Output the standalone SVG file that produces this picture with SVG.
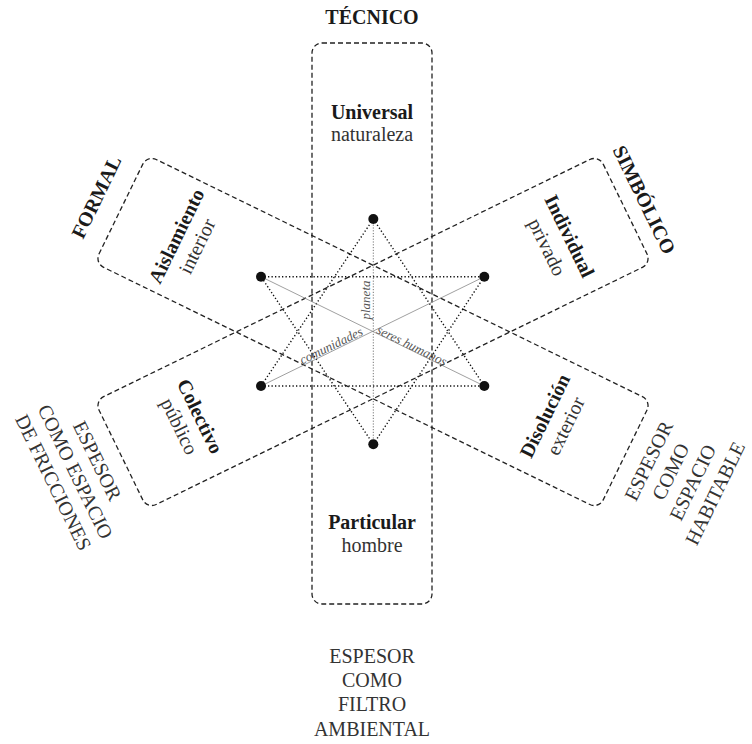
<svg xmlns="http://www.w3.org/2000/svg" width="752" height="744" viewBox="0 0 752 744">
<defs>
<style>
.box{fill:none;stroke:#222;stroke-width:1.3;stroke-dasharray:5 3}
.t{font-family:"Liberation Serif","Times New Roman",serif;font-size:20px;text-anchor:middle;fill:#333}
.b{font-weight:bold;fill:#1a1a1a}
.it{font-family:"Liberation Serif","Times New Roman",serif;font-style:italic;font-size:13px;text-anchor:middle;fill:#555}
.dt{fill:none;stroke:#111;stroke-width:1.4;stroke-dasharray:1.3 2.2}
.thin{fill:none;stroke:#888;stroke-width:0.8}
.vd{fill:none;stroke:#666;stroke-width:0.9;stroke-dasharray:1.2 1.6}
.dot{fill:#111}
</style>
</defs>
<rect width="752" height="744" fill="#fff"/>

<g id="node-tecnico" transform="translate(372 332)">
<rect class="box" x="-60" y="-289" width="120" height="561" rx="10"/>
<text class="t b" x="0" y="-308">TÉCNICO</text>
<text class="t b" x="0" y="-213.5">Universal</text>
<text class="t" x="0" y="-191">naturaleza</text>
<text class="t b" x="0" y="197">Particular</text>
<text class="t" x="0" y="220">hombre</text>
<text class="t" x="0" y="330.5">ESPESOR</text>
<text class="t" x="0" y="355">COMO</text>
<text class="t" x="0" y="379">FILTRO</text>
<text class="t" x="0" y="403.5">AMBIENTAL</text>
</g>

<g id="node-formal" transform="translate(373 332) rotate(-64)">
<rect class="box" x="-60" y="-280.5" width="120" height="561" rx="10"/>
<text class="t b" x="0" y="-301">FORMAL</text>
<text class="t b" x="0" y="-212">Aislamiento</text>
<text class="t" x="0" y="-189">interior</text>
<text class="t b" x="0" y="198">Disolución</text>
<text class="t" x="0" y="221">exterior</text>
<text class="t" x="5" y="311">ESPESOR</text>
<text class="t" x="5" y="335.5">COMO</text>
<text class="t" x="5" y="360">ESPACIO</text>
<text class="t" x="5" y="385">HABITABLE</text>
</g>

<g id="node-simbolico" transform="translate(373 332) rotate(64)">
<rect class="box" x="-60" y="-280.5" width="120" height="561" rx="10"/>
<text class="t b" x="0" y="-295">SIMBÓLICO</text>
<text class="t b" x="0" y="-212">Individual</text>
<text class="t" x="0" y="-187">privado</text>
<text class="t b" x="0" y="199">Colectivo</text>
<text class="t" x="0" y="222">público</text>
<text class="t" x="-5" y="311">ESPESOR</text>
<text class="t" x="-5" y="335.5">COMO ESPACIO</text>
<text class="t" x="-5" y="360">DE FRICCIONES</text>
</g>

<g id="connectors">
<line class="dt" x1="373.3" y1="219" x2="261" y2="386"/>
<line class="dt" x1="373.3" y1="219" x2="484.3" y2="386"/>
<line class="dt" x1="261" y1="386" x2="484.3" y2="386"/>
<line class="dt" x1="373.3" y1="444.3" x2="261" y2="276.7"/>
<line class="dt" x1="373.3" y1="444.3" x2="484.3" y2="276.7"/>
<line class="dt" x1="261" y1="276.7" x2="484.3" y2="276.7"/>
<line class="vd" x1="373.3" y1="219" x2="373.3" y2="444.3"/>
<line class="thin" x1="261" y1="276.7" x2="484.3" y2="386"/>
<line class="thin" x1="261" y1="386" x2="484.3" y2="276.7"/>
<text class="it" transform="translate(370 300) rotate(-90)">planeta</text>
<text class="it" transform="translate(333 349.5) rotate(-26.08)">comunidades</text>
<text class="it" transform="translate(410 349.5) rotate(26.08)">seres humanos</text>
</g>

<g id="star-nodes">
<circle id="n-top" class="dot" cx="373.3" cy="219" r="5"/>
<circle id="n-tl" class="dot" cx="261" cy="276.7" r="5"/>
<circle id="n-tr" class="dot" cx="484.3" cy="276.7" r="5"/>
<circle id="n-bl" class="dot" cx="261" cy="386" r="5"/>
<circle id="n-br" class="dot" cx="484.3" cy="386" r="5"/>
<circle id="n-bottom" class="dot" cx="373.3" cy="444.3" r="5"/>
</g>
</svg>
